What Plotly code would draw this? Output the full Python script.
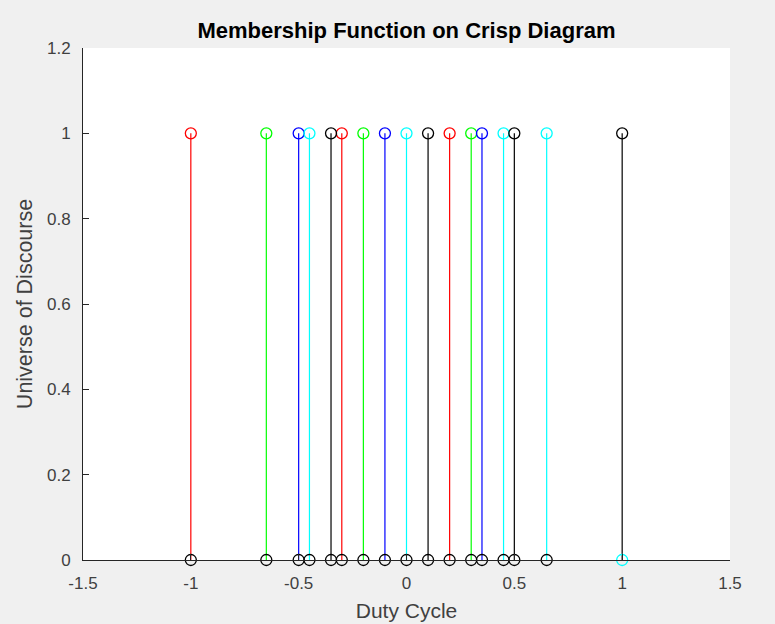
import plotly.graph_objects as go

# Data
red_x = [-1.0, -0.3, 0.2]
green_x = [-0.65, -0.2, 0.3]
blue_x = [-0.5, -0.1, 0.35]
cyan_x = [-0.45, 0.0, 0.45, 0.65]
black_x = [-0.35, 0.1, 0.5, 1.0]
member_value = 1.0
zero_black_x = [-1.0, -0.65, -0.5, -0.45, -0.35, -0.3, -0.2, -0.1, 0.0, 0.1, 0.2, 0.3, 0.35, 0.45, 0.5, 0.65]
zero_cyan_x = [1.0]

x_ticks = [-1.5, -1, -0.5, 0, 0.5, 1, 1.5]
x_tick_text = ["-1.5", "-1", "-0.5", "0", "0.5", "1", "1.5"]
y_ticks = [0, 0.2, 0.4, 0.6, 0.8, 1, 1.2]
y_tick_text = ["0", "0.2", "0.4", "0.6", "0.8", "1", "1.2"]

series = [
    (red_x, "#ff0000"),
    (green_x, "#00ff00"),
    (blue_x, "#0000ff"),
    (cyan_x, "#00ffff"),
    (black_x, "#000000"),
]

fig = go.Figure()
for xs, col in series:
    lx, ly = [], []
    for x in xs:
        lx += [x, x, None]
        ly += [0, member_value, None]
    fig.add_trace(go.Scatter(x=lx, y=ly, mode="lines",
                             line=dict(color=col, width=1.2),
                             hoverinfo="skip", showlegend=False))
    fig.add_trace(go.Scatter(x=xs, y=[member_value] * len(xs), mode="markers",
                             marker=dict(symbol="circle-open", size=11,
                                         color=col, line=dict(width=1.3, color=col)),
                             showlegend=False))

fig.add_trace(go.Scatter(x=zero_black_x, y=[0] * len(zero_black_x), mode="markers",
                         marker=dict(symbol="circle-open", size=11, color="#000000",
                                     line=dict(width=1.3, color="#000000")),
                         showlegend=False, cliponaxis=False))
fig.add_trace(go.Scatter(x=zero_cyan_x, y=[0] * len(zero_cyan_x), mode="markers",
                         marker=dict(symbol="circle-open", size=11, color="#00ffff",
                                     line=dict(width=1.3, color="#00ffff")),
                         showlegend=False, cliponaxis=False))

axis_color = "#262626"
fig.update_layout(
    width=775, height=624,
    paper_bgcolor="#f0f0f0", plot_bgcolor="#ffffff",
    margin=dict(l=83, r=45, t=48, b=64),
    font=dict(family="Liberation Sans, Arial, sans-serif", color=axis_color),
    title=dict(text="<b>Membership Function on Crisp Diagram</b>",
               x=0.5, xref="paper", y=1 - 30 / 624, yanchor="middle",
               font=dict(size=22, color="#000000")),
    xaxis=dict(range=[-1.5, 1.5], tickvals=x_ticks, ticktext=x_tick_text,
               automargin=False,
               showgrid=False, zeroline=False, showline=True, linecolor=axis_color,
               linewidth=1, ticks="inside", ticklen=6, tickcolor=axis_color,
               ticklabelstandoff=8,
               tickfont=dict(size=17, color="#404040"),
               title=dict(text="Duty Cycle", font=dict(size=21, color="#404040"), standoff=10)),
    yaxis=dict(range=[0, 1.2], tickvals=y_ticks, ticktext=y_tick_text,
               automargin=False,
               showgrid=False, zeroline=False, showline=True, linecolor=axis_color,
               linewidth=1, ticks="inside", ticklen=6, tickcolor=axis_color,
               ticklabelstandoff=8,
               tickfont=dict(size=17, color="#404040"),
               title=dict(text="Universe of Discourse", font=dict(size=21.5, color="#404040"), standoff=8)),
)

fig.write_html("out.html")
